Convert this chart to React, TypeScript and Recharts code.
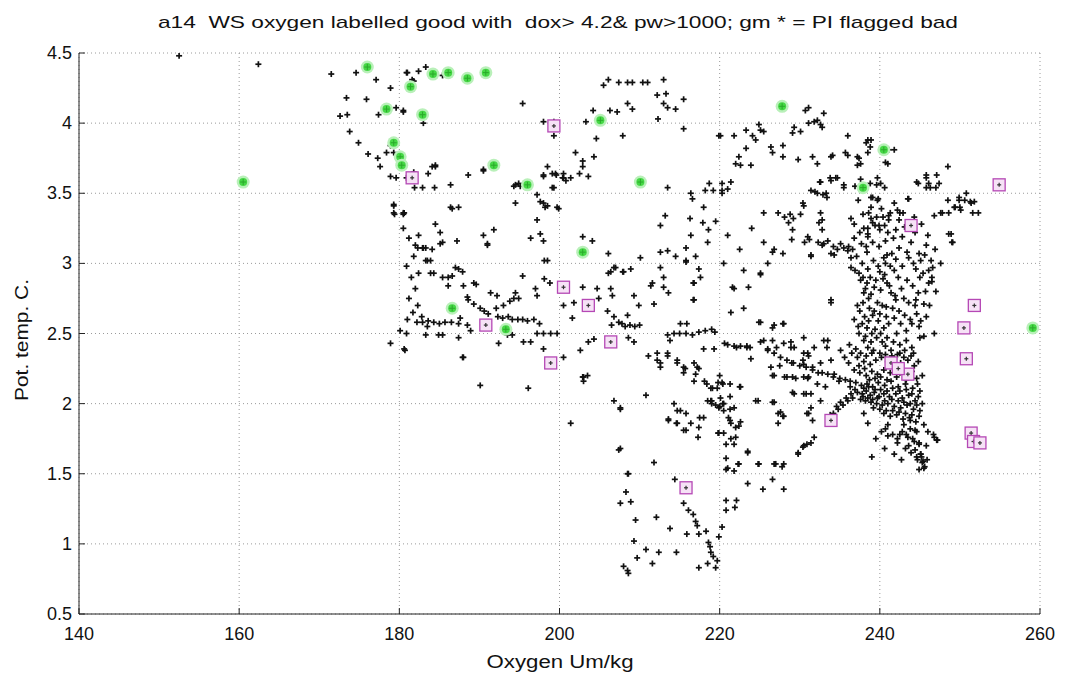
import React from 'react';
import { ScatterChart, Scatter, XAxis, YAxis, CartesianGrid } from 'recharts';

// axis ticks
const xTicks = [140, 160, 180, 200, 220, 240, 260];
const yTicks = [0.5, 1, 1.5, 2, 2.5, 3, 3.5, 4, 4.5];

// black crosses: oxygen (Um/kg), pot. temp (C)
const blackTopLeft = [[152.5, 4.48], [162.4, 4.42]];

const blackCluster175 = [
  [171.5, 4.35], [174.6, 4.36], [177.1, 4.31], [178.9, 4.25], [180.9, 4.36], [173.4, 4.18], [175.9, 4.17],
  [177.4, 4.06], [172.6, 4.05], [173.5, 4.06], [179.6, 4.11], [180.5, 4.08], [173.8, 3.94], [174.9, 3.86],
  [176.1, 3.78], [177.3, 3.75], [177.6, 3.69], [178.9, 3.84], [178.4, 3.79], [179.3, 3.79], [178.9, 3.62],
  [179.6, 3.61], [180.9, 3.61], [179.3, 3.42], [179.4, 3.35], [180.5, 3.35], [181, 4.36], [182.4, 4.37],
  [183.3, 4.4], [181.6, 4.31], [181.8, 4.3], [185.4, 4.34], [180.5, 4.09], [183, 4.0], [181.8, 3.65],
  [183.6, 3.64], [184.5, 3.69], [181.9, 3.54], [182.9, 3.54], [184.4, 3.54], [186.4, 3.56], [188.6, 3.63],
  [190.5, 3.67], [180.6, 3.36], [186.4, 3.4], [187.4, 3.4], [184.1, 3.69], [184.5, 3.7], [190.5, 3.66],
];

const blackBand180 = [
  [179.3, 3.41], [179.3, 3.36], [180.5, 3.36], [182.4, 3.2], [182.3, 3.11], [182.9, 3.11], [183.3, 3.11],
  [184.1, 3.1], [184.5, 3.28], [185.1, 3.22], [185.4, 3.15], [187.2, 3.16], [186.6, 3.39], [183.3, 3.02],
  [183.9, 3.02], [182.4, 2.93], [183.9, 2.93], [184.3, 2.93], [185.4, 2.9], [186.1, 2.9], [186.6, 2.91],
  [187, 2.97], [187.4, 2.96], [187.9, 2.94], [186.1, 2.84], [188, 2.84], [189.3, 2.86], [189.6, 2.85],
  [188.5, 2.76], [190.5, 3.2], [191, 3.14], [191.8, 3.24], [194.5, 3.43], [195.4, 2.91], [197.2, 3.31],
  [197.6, 3.21], [198, 3.16], [196.4, 3.18], [198.1, 3.02], [198.1, 2.89], [198.8, 2.86], [191.4, 2.79],
  [192.2, 2.77], [194.5, 2.79], [194.3, 2.75], [197, 2.82], [197.2, 2.77],
  [188.6, 2.74], [189.3, 2.71], [190.1, 2.68], [190.6, 2.66], [191.1, 2.64], [192.1, 2.68], [192.3, 2.62],
  [192.9, 2.61], [193.6, 2.62], [194.1, 2.6], [194.8, 2.6], [195.4, 2.6], [196, 2.59], [196.8, 2.6],
  [197.5, 2.57], [193, 2.7], [193.8, 2.73], [194.9, 2.75],
  [180.1, 2.52], [180.9, 2.5], [182.2, 2.58], [182.9, 2.58], [183.6, 2.59], [184.3, 2.58], [185, 2.57],
  [185.7, 2.58], [186.5, 2.58], [184.9, 2.49], [185.4, 2.49], [183.3, 2.49], [187.4, 2.57], [187.6, 2.61],
  [188.5, 2.56], [188.9, 2.52], [187.4, 2.47], [178.9, 2.43], [180.7, 2.38], [188, 2.33], [192.4, 2.43],
  [195.5, 2.44], [196.4, 2.44], [197.2, 2.5], [198, 2.5], [198.9, 2.5], [199.7, 2.5], [198, 2.39],
  [200.5, 2.33], [193.5, 2.49], [194.1, 2.49],
  [180.5, 3.25], [181.2, 3.18], [181.8, 3.05], [180.9, 2.98], [181.5, 2.9], [182, 2.82], [181.2, 2.75],
  [182.3, 2.7], [181.7, 2.65], [182.8, 2.62], [181, 2.6], [183.5, 2.55], [182, 3.13], [183, 3.11],
  [185.1, 3.14], [183.5, 3.02], [191, 3.13], [198.5, 3.02],
  [187.9, 2.33], [190.1, 2.13], [196.1, 2.11], [180.6, 2.39],
];

const blackUpperMid = [
  [195.4, 4.14], [198, 4.01], [199.3, 4.01], [199.3, 3.91], [194.3, 3.55], [195.1, 3.55], [197.2, 3.49],
  [198, 3.43], [198.5, 3.41], [199.7, 3.4], [199.3, 3.54], [198.5, 3.69], [199.5, 3.64], [200.5, 3.61],
  [201.4, 3.61], [200.5, 3.64], [198, 3.62], [202, 3.79], [202.9, 3.73], [202.9, 3.69], [202.5, 3.64],
  [203.6, 3.62], [204.3, 3.76], [204.6, 3.89], [203.3, 4.01], [204.2, 4.09], [206.3, 4.09], [207.2, 4.08],
  [208.5, 4.14], [209.1, 4.1], [205.5, 4.27], [206.1, 4.31], [207.4, 4.29], [208.5, 4.29], [209.1, 4.29],
  [210.4, 4.29], [211, 4.29], [213, 4.31], [212.2, 4.2], [213.3, 4.21], [213, 4.14], [213.5, 4.11],
  [214.5, 4.1], [215.5, 4.17], [212.3, 4.03], [215.5, 3.96], [207.9, 3.91], [219.9, 3.91], [213.5, 3.54],
  [216.4, 3.5], [216.6, 3.46], [218.2, 3.52], [218.7, 3.57], [219.2, 3.52], [220.3, 3.5], [221, 3.53],
  [213.2, 3.34], [212.6, 3.27], [216.3, 3.32], [217.9, 3.29], [218.6, 3.24], [216.4, 3.2], [215.8, 3.11],
  [202.9, 3.19], [204.1, 3.16], [194.5, 3.56], [194.9, 3.57], [198, 3.63], [199.1, 3.64], [199.6, 3.63],
  [200.4, 3.61], [200.8, 3.59], [199.1, 3.54], [197.6, 3.44], [198.2, 3.4], [199.9, 3.39],
  [218, 3.4], [219.5, 3.3], [221, 3.2], [222.5, 3.1], [224, 3.25], [225.5, 3.15], [220.5, 3.0],
  [223, 2.95], [226, 3.0], [218.5, 3.15], [217, 3.05], [214.5, 3.05], [213, 2.9],
  [206.1, 3.07], [210.1, 3.04], [212.6, 3.08], [213.5, 3.09], [215.8, 3.02],
];

const blackMidBand = [
  [206.8, 2.97], [208, 2.94], [208.9, 2.96], [206.1, 2.93], [212.6, 2.97], [215.8, 3.01], [217.4, 2.96],
  [217.6, 2.9], [216.8, 2.86], [225.1, 2.92], [221.6, 2.83], [223.6, 2.83], [211.4, 2.84], [213, 2.83],
  [213.6, 2.79], [209.3, 2.77], [209.9, 2.7], [211.8, 2.71], [216.8, 2.74], [206.4, 2.82], [206.6, 2.77],
  [204.7, 2.82], [202.9, 2.83], [204.9, 2.75], [200.5, 2.7], [201.8, 2.72], [201.6, 2.61],
  [206, 2.66], [206.8, 2.62], [207.4, 2.58], [206.5, 2.56], [208.8, 2.56], [209.4, 2.55], [210, 2.56],
  [207.8, 2.57], [208.2, 2.55], [208.5, 2.63], [208.6, 2.47], [209.3, 2.44], [204.3, 2.46], [203.6, 2.44],
  [202.6, 2.38], [203, 2.19], [203.5, 2.2],
  [213.5, 2.49], [214.3, 2.5], [215, 2.5], [215.8, 2.5], [216.6, 2.49], [217.4, 2.51], [218.2, 2.52],
  [219, 2.53], [219.4, 2.51], [213.8, 2.45], [215.1, 2.57], [218, 2.39], [219.3, 2.39], [221, 2.42],
  [221.8, 2.41], [222.6, 2.41], [223.4, 2.4], [223.8, 2.4], [225.1, 2.44], [226, 2.39], [226.8, 2.36],
  [227.6, 2.33], [228.4, 2.31], [229.2, 2.29], [230, 2.27], [230.8, 2.26], [231.6, 2.24], [232.3, 2.22],
  [226.8, 2.56], [228, 2.57], [225.1, 2.58], [228.9, 2.44], [229.3, 2.4],
  [212.2, 2.31], [212.6, 2.26], [213.5, 2.34], [214.7, 2.31], [215.7, 2.25], [215.5, 2.22], [217.2, 2.26],
  [217, 2.21], [211.1, 2.34], [212.2, 2.36], [212.6, 2.29], [213.5, 2.36], [214.7, 2.29], [215.5, 2.26],
  [216.8, 2.29], [217.4, 2.25],
  [226.6, 3.08], [227.9, 3.07], [231.4, 3.05], [225.1, 2.93], [221.8, 2.82], [221.4, 2.65], [223, 2.68],
  [224.9, 2.58], [226.6, 2.54], [227.9, 2.57], [233.9, 2.74], [233.5, 2.45], [220.6, 2.43], [222.1, 2.4],
  [223.4, 2.41], [225.5, 2.45], [226.6, 2.45], [226, 2.38], [227.1, 2.4], [228, 2.43], [228.9, 2.4],
  [230.5, 2.36], [231.1, 2.34], [223.9, 2.32], [226.4, 2.26], [227.5, 2.27], [229, 2.29], [230.5, 2.28],
  [231.6, 2.26], [226.6, 2.2], [228.1, 2.19], [229.1, 2.19], [230.5, 2.19],
  [206.4, 2.94], [207, 2.97], [207.9, 2.94], [211.6, 2.86], [216.7, 2.86], [216.7, 2.74], [215.9, 2.57],
];

const blackLower = [
  [210.8, 2.06], [206.8, 2.02], [207.6, 1.97], [201.4, 1.86], [207.6, 1.68], [211.8, 1.58], [208.6, 1.5],
  [226.8, 2.2], [228.4, 2.19], [229.5, 2.18], [231, 2.18], [229.3, 2.07], [230.5, 2.07], [224.8, 2.02],
  [226.8, 2.01], [227.6, 1.94], [228, 1.91], [227.3, 1.86], [231.4, 1.97], [231.1, 1.93], [229.8, 1.64],
  [230.5, 1.7], [231.4, 1.72], [228, 1.57], [226.8, 1.57], [224.8, 1.57], [223.5, 1.65], [222.3, 1.57],
  [221, 1.54], [220.8, 1.61], [221.8, 1.71], [220.5, 1.79], [221.4, 1.86], [222, 1.83], [222.6, 1.87],
  [221.1, 1.9], [219.8, 1.79], [218.5, 2.02], [219, 2.0], [219.5, 1.99], [220, 1.98], [220.5, 1.95],
  [221.8, 1.97], [218, 1.9], [217.4, 1.83], [217.3, 1.76], [215.5, 1.81], [214.7, 1.86], [213.6, 1.89],
  [215.1, 1.95], [214.3, 2.0], [216.8, 2.16], [218.4, 2.14], [219.1, 2.11], [220.3, 2.15], [221.3, 2.14],
  [222.5, 2.12], [218.9, 2.02], [220, 2.2], [219.8, 2.15],
  [207.4, 1.67], [208.5, 1.5], [208.3, 1.37], [207.6, 1.29], [208.9, 1.3], [209.5, 1.17], [212.1, 1.19],
  [209.3, 1.02], [210.8, 0.96], [209.7, 0.9], [208, 0.84], [208.5, 0.81], [208.6, 0.79], [211.6, 0.86],
  [212.4, 0.94], [214.6, 0.94], [213.8, 1.11], [214.4, 1.46], [215.5, 1.29], [216.1, 1.24], [216.7, 1.21],
  [217, 1.16], [217.2, 1.13], [215.9, 1.07], [217.4, 1.07], [218.3, 1.09], [218.6, 1.01], [218.8, 0.98],
  [218.9, 0.94], [219.2, 0.91], [219.9, 1.05], [217.4, 0.83], [218.5, 0.86], [219.5, 0.83], [219.7, 0.88],
  [220.3, 1.12], [220.8, 1.24], [220.8, 1.31], [221.9, 1.26], [222.1, 1.31], [220.8, 1.53], [221.8, 1.52],
  [220.8, 1.71], [221.4, 1.75], [222, 1.76], [222.4, 1.57], [223.5, 1.43], [223.5, 1.66], [224.9, 1.57],
  [225.4, 1.39], [226.6, 1.46], [227, 1.57], [227.8, 1.55], [228, 1.39], [229.8, 1.65], [219.9, 1.79],
  [215.8, 1.81], [214.6, 1.86],
  [218.1, 2.16], [218.9, 2.11], [219.7, 2.11], [220.1, 2.04], [219, 2.02], [220.5, 2.0], [219.9, 1.97],
  [214.7, 1.95], [215.8, 1.93], [216.4, 1.86], [217.5, 1.9], [213.6, 1.88], [207.6, 1.96], [202.9, 2.19],
  [203, 2.16], [220.4, 2.14], [222.6, 2.12], [221.3, 2.05], [226.6, 2.01], [229.1, 2.08], [230.8, 2.07],
  [224.5, 2.02], [227.3, 1.93], [227.9, 1.91], [220.4, 2.0], [221.3, 1.96], [221.3, 1.88], [222.4, 1.84],
];

const blackUpperRight = [
  [232.6, 3.99], [231.8, 4.01], [236, 3.91], [238.3, 3.86], [238.9, 3.88], [238.5, 3.79], [237.4, 3.75],
  [237.6, 3.71], [241.1, 3.81], [240.7, 3.72], [234.1, 3.77], [235.7, 3.79], [231.6, 3.76], [232.2, 3.71],
  [232.6, 3.58], [233.9, 3.59], [234.5, 3.61], [235.5, 3.54], [231.4, 3.52], [231.9, 3.51], [232.9, 3.49],
  [233.3, 3.5], [239.7, 3.61], [240.1, 3.57], [238.9, 3.47], [239.7, 3.45], [236.4, 3.32], [238, 3.25],
  [238.5, 3.21], [239.6, 3.33], [240.4, 3.33], [241.1, 3.34], [242.5, 3.36], [241.1, 3.31], [239.1, 3.29],
  [240, 3.24], [242.4, 3.31], [243.6, 3.46], [244.6, 3.58], [245.8, 3.61], [246.1, 3.57], [247.1, 3.63],
  [247.4, 3.57], [248.5, 3.69], [247, 3.54], [248.5, 3.45], [249.4, 3.4], [250, 3.4], [249.9, 3.45],
  [250.6, 3.45], [251.4, 3.43], [251.6, 3.36], [246.8, 3.34], [247.6, 3.36], [248.6, 3.21], [249, 3.15],
  [245.8, 3.13], [231, 3.19], [231.2, 3.17], [232.8, 3.24], [233, 3.14], [233.5, 3.16], [231.4, 3.06],
  [233.9, 3.07], [234.3, 3.06], [235.5, 3.11], [236, 3.09], [236.4, 3.04], [235.1, 3.14], [236.8, 3.18],
  [238.5, 3.19], [239.1, 3.15], [240.5, 3.04], [240.9, 3.06], [241.5, 3.07], [242.4, 3.11], [243.6, 3.04],
  [244.9, 3.07], [245.1, 3.02], [246.4, 3.02], [246.6, 2.97], [230.4, 3.43], [232.6, 3.36], [232.8, 3.31],
  [230.7, 4.09], [231.1, 4.11], [233, 4.07], [232.2, 4.02], [232.8, 3.97], [231.1, 4.0], [229.3, 3.97],
  [229.1, 3.93], [230.1, 3.94], [224.9, 3.99], [225.1, 3.95], [225.5, 3.94], [223.3, 3.95], [224.1, 3.91],
  [224.5, 3.88], [221.8, 3.91], [220.1, 3.91], [227.9, 3.84], [226.4, 3.83], [226.6, 3.79], [227.9, 3.76],
  [223.3, 3.82], [222.4, 3.76], [222, 3.71], [222.6, 3.7], [223.9, 3.7], [229.8, 3.74], [233.9, 3.76],
  [236, 3.77], [237.2, 3.76], [237.2, 3.7], [238.5, 3.88], [238.8, 3.83], [241, 3.71], [241.8, 3.81],
  [221.4, 3.58], [220.3, 3.57], [220.3, 3.52], [232.5, 3.58], [233.8, 3.61], [234.7, 3.61], [232.2, 3.5],
  [233.4, 3.47], [235.5, 3.56], [238.8, 3.57], [239.6, 3.56], [240.6, 3.54], [239.1, 3.47], [239.8, 3.46],
  [225.5, 3.36], [227.3, 3.36], [228.1, 3.33], [228.8, 3.35], [229.2, 3.32], [230.1, 3.35], [228.6, 3.29],
  [229.1, 3.24], [230.5, 3.41], [232.4, 3.29], [238.6, 3.36], [238.9, 3.32], [239.4, 3.27], [239.9, 3.27],
  [240.6, 3.27], [241.3, 3.36], [242.2, 3.38], [238.5, 3.25], [229, 3.17], [230.6, 3.15], [232.3, 3.15],
  [232.8, 3.13], [234.2, 3.12], [234.7, 3.1], [236.1, 3.12], [236.6, 3.1], [226.8, 3.1],
  [245.8, 3.63], [246.3, 3.54], [245.8, 3.54], [244.8, 3.57], [243.5, 3.46], [249.9, 3.47], [250.8, 3.5],
  [251.3, 3.44], [251.8, 3.44], [250.1, 3.38], [249.3, 3.4], [252.3, 3.36], [248.6, 3.36], [247.8, 3.36],
  [248.9, 3.21], [249.1, 3.15],
];

const blackColumn = [
  [236.4, 2.97], [237.4, 2.93], [237.9, 2.9], [238.5, 2.96], [238.8, 2.9], [238.4, 2.86], [240, 2.94],
  [240.4, 2.89], [240.9, 2.86], [241.8, 2.95], [242.3, 2.9], [244.5, 2.96], [245, 2.9], [245.4, 2.93],
  [246.1, 2.86], [246.5, 2.87], [233.9, 2.72], [239.3, 2.83], [240.1, 2.81], [238, 2.79], [238.6, 2.75],
  [239.7, 2.72], [240.3, 2.7], [240.8, 2.69], [241.4, 2.79], [242, 2.74], [243, 2.75], [243.6, 2.72],
  [244.4, 2.7], [244.5, 2.74], [245.5, 2.71], [245.1, 2.59], [244.6, 2.64], [244, 2.57], [237.5, 2.66],
  [238.1, 2.62], [238.6, 2.59], [239.1, 2.63], [237.8, 2.57], [238.4, 2.54], [239, 2.5], [239.8, 2.59],
  [240.5, 2.54], [241.1, 2.57], [241.8, 2.61], [242.6, 2.57], [243.3, 2.52], [242.1, 2.5], [239.6, 2.47],
  [240.3, 2.44], [240.7, 2.41], [241.4, 2.38], [238, 2.45], [238.5, 2.4], [239, 2.36], [237.4, 2.5],
  [243.3, 2.45], [244, 2.4], [244.2, 2.36], [245, 2.47], [242.5, 2.36],
  [230.5, 2.47], [231.8, 2.4], [231, 2.36], [230.4, 2.31], [233, 2.45], [233.4, 2.4], [235.1, 2.38],
  [235.6, 2.33], [236.1, 2.29], [233.9, 2.31], [232.6, 2.29], [231.1, 2.19], [232.2, 2.14], [234.3, 2.21],
  [234.9, 2.16], [233.2, 2.12], [231.4, 2.07], [230.9, 1.93], [231.6, 1.88], [232.6, 2.02],
  [246.5, 2.9], [247, 2.8], [246.2, 2.7], [245.8, 2.62], [246.8, 2.5],
  [237.1, 3.05], [237.8, 3.0], [238.4, 3.08], [239.2, 3.02], [239.8, 2.98], [240.7, 3.0], [241.3, 2.98],
  [242, 3.03], [242.8, 2.98], [243.4, 3.08], [244.2, 3.0], [245.6, 3.06], [246.1, 2.95], [237.7, 3.14],
  [238.3, 3.12], [239.9, 3.12], [240.7, 3.16], [241.7, 3.18], [242.8, 3.19], [243.9, 3.15], [244.4, 3.22],
  [243.1, 3.26], [242, 3.24], [241, 3.22], [237.5, 3.22], [236.8, 3.28], [237.9, 3.35], [238.9, 3.4],
  [240.2, 3.39], [241.8, 3.43], [242.9, 3.36], [244.3, 3.33], [245.2, 3.28], [246, 3.2], [246.9, 3.1],
  [247.6, 3.0], [237.3, 3.45], [236.9, 3.55], [237.6, 3.6],
  [236.9, 2.95], [237.6, 2.88], [238.2, 2.82], [238.9, 2.78], [239.5, 2.88], [240.6, 2.92], [241.2, 2.84],
  [241.9, 2.77], [242.7, 2.82], [243.4, 2.88], [244.1, 2.84], [244.8, 2.79], [245.7, 2.8],
  [237.2, 2.7], [237.9, 2.72], [238.7, 2.68], [239.3, 2.66], [240, 2.64], [240.8, 2.62], [241.6, 2.68],
  [242.4, 2.66], [243.1, 2.63], [243.8, 2.6], [244.9, 2.55], [245.5, 2.48],
  [236.8, 2.6], [237.3, 2.55], [238.2, 2.48], [238.9, 2.44], [239.4, 2.53], [240.1, 2.5], [240.9, 2.47],
  [241.7, 2.44], [242.5, 2.42], [243.1, 2.38], [243.9, 2.34], [244.8, 2.3],
];

const blackCore = [
  [236.5, 2.36], [237.2, 2.33], [238, 2.3], [238.8, 2.28], [239.5, 2.31], [240.2, 2.33], [241, 2.3],
  [241.8, 2.32], [242.6, 2.29], [243.5, 2.31], [244.3, 2.27], [236.8, 2.24], [237.5, 2.22], [238.3, 2.2],
  [239, 2.23], [239.7, 2.21], [240.5, 2.24], [241.3, 2.22], [242.1, 2.19], [242.9, 2.24], [243.8, 2.2],
  [244.6, 2.18], [236.3, 2.16], [237, 2.15], [237.7, 2.13], [238.4, 2.14], [239.1, 2.12], [239.8, 2.15],
  [240.6, 2.13], [241.4, 2.16], [242.3, 2.12], [243.2, 2.14], [244.1, 2.11], [245, 2.09], [237.2, 2.08],
  [237.8, 2.07], [238.3, 2.09], [238.8, 2.06], [239.3, 2.08], [239.9, 2.05], [240.5, 2.07], [241.2, 2.05],
  [242, 2.07], [242.8, 2.04], [243.6, 2.06], [244.4, 2.02], [237.6, 2.03], [238.2, 2.02], [238.9, 2.01],
  [239.6, 2.0], [240.3, 1.99], [241, 2.0], [241.8, 1.98], [242.6, 1.97], [243.4, 1.99], [244.2, 1.96],
  [245, 1.95], [240.5, 1.93], [241.3, 1.91], [242.1, 1.92], [242.9, 1.89], [243.7, 1.9], [244.5, 1.87],
  [232.8, 2.22], [233.5, 2.21], [234.2, 2.19], [235, 2.18], [235.7, 2.17], [236.3, 2.12], [234.2, 1.93],
  [234.8, 1.96], [235.4, 1.99], [236, 2.02], [236.6, 2.04], [238, 1.93], [238.5, 1.86],
  [236.2, 2.42], [237, 2.39], [237.6, 2.36], [238.3, 2.34], [239.2, 2.38], [240, 2.36], [240.7, 2.35],
  [241.5, 2.34], [242.2, 2.35], [243, 2.33], [237.4, 2.27], [238.1, 2.25], [238.7, 2.17], [239.4, 2.18],
  [240.1, 2.19], [240.9, 2.17], [241.7, 2.26], [242.5, 2.22], [243.3, 2.17], [244, 2.23], [244.7, 2.14],
  [245.3, 2.2], [238, 2.11], [238.6, 2.12], [239.4, 2.1], [240.1, 2.1], [240.9, 2.09], [241.6, 2.11],
  [242.5, 2.09], [243.3, 2.1], [244, 2.07], [244.8, 2.05], [237.9, 2.05], [238.5, 2.04], [239.1, 2.03],
  [239.7, 2.04], [240.6, 2.02], [241.5, 2.03], [242.3, 2.02], [243, 2.01], [243.8, 2.0], [244.6, 1.99],
  [245.3, 2.0], [239.2, 1.97], [240, 1.96], [240.8, 1.95], [241.6, 1.95], [242.4, 1.94], [243.2, 1.93],
  [244, 1.92], [244.9, 1.91], [245.5, 1.85], [236.9, 2.1], [236.4, 2.07], [235.8, 2.04], [235.1, 2.01],
  [234.6, 1.98], [233.8, 1.92],
];

const blackTail = [
  [243, 1.85], [243.8, 1.82], [244.6, 1.8], [243.3, 1.78], [244.1, 1.75], [244.9, 1.72], [243.6, 1.7],
  [244.4, 1.67], [245.1, 1.64], [244.7, 1.6], [245.3, 1.58], [245.6, 1.55], [244.9, 1.53], [245.2, 1.62],
  [246, 1.8], [246.7, 1.78], [247.2, 1.74], [241, 1.85], [240.2, 1.8], [239.5, 1.75], [241.6, 1.78],
  [242.2, 1.72], [240.6, 1.68], [239, 1.62], [241.8, 1.64], [242.7, 1.6], [240.7, 1.82], [241, 1.77],
  [242.2, 1.75], [230.9, 1.71], [230.4, 1.69], [231.8, 1.76], [243.8, 1.88], [244.4, 1.81], [244.9, 1.71],
  [245.1, 1.64], [245.4, 1.59], [245.5, 1.54], [246.8, 1.76], [247.1, 1.74],
  [242.8, 1.8], [243.5, 1.76], [244.3, 1.73], [243.9, 1.65], [244.6, 1.62], [245.8, 1.7], [245.9, 1.6],
  [243.2, 1.68], [242.5, 1.78],
];

const greenGood = [
  [160.5, 3.58], [176, 4.4], [178.4, 4.1], [179.3, 3.86], [180.1, 3.76], [180.3, 3.7], [181.4, 4.26],
  [182.9, 4.06], [184.2, 4.35], [186.1, 4.36], [188.5, 4.32], [190.8, 4.36], [191.8, 3.7], [196, 3.56],
  [205.1, 4.02], [210.1, 3.58], [186.6, 2.68], [193.3, 2.53], [202.9, 3.08], [227.8, 4.12], [240.5, 3.81],
  [237.9, 3.54], [259.1, 2.54],
];

const magentaFlagged = [
  [199.3, 3.98], [181.6, 3.61], [200.5, 2.83], [203.6, 2.7], [190.8, 2.56], [206.4, 2.44], [198.9, 2.29],
  [215.8, 1.4], [254.9, 3.56], [243.9, 3.27], [251.8, 2.7], [250.5, 2.54], [250.8, 2.32], [233.9, 1.88],
  [251.4, 1.79], [251.7, 1.73], [252.5, 1.72], [241.4, 2.29], [243.5, 2.21], [242.3, 2.25],
];

const toPts = (arr: number[][]) => arr.map(([x, y]) => ({ x, y }));

const blackPts = toPts([
  ...blackTopLeft, ...blackCluster175, ...blackBand180, ...blackUpperMid, ...blackMidBand,
  ...blackLower, ...blackUpperRight, ...blackColumn, ...blackCore, ...blackTail,
]);
const greenPts = toPts(greenGood);
const magentaPts = toPts(magentaFlagged);

const FONT = '"Liberation Sans", Arial, Helvetica, sans-serif';

const Cross = (p: any) => {
  const { cx, cy } = p;
  if (cx == null || cy == null) return null;
  return (
    <g>
      <line x1={cx - 3} x2={cx + 3} y1={cy} y2={cy} stroke="#111" strokeWidth={1.7} />
      <line x1={cx} x2={cx} y1={cy - 3} y2={cy + 3} stroke="#111" strokeWidth={1.7} />
    </g>
  );
};

const GreenStar = (p: any) => {
  const { cx, cy } = p;
  if (cx == null || cy == null) return null;
  return (
    <g>
      <circle cx={cx} cy={cy} r={6.5} fill="#b9f0b9" />
      <circle cx={cx} cy={cy} r={4} fill="#45d845" />
      <line x1={cx - 3} x2={cx + 3} y1={cy} y2={cy} stroke="#2aa82a" strokeWidth={1} />
      <line x1={cx} x2={cx} y1={cy - 3} y2={cy + 3} stroke="#2aa82a" strokeWidth={1} />
    </g>
  );
};

const MagentaBox = (p: any) => {
  const { cx, cy } = p;
  if (cx == null || cy == null) return null;
  return (
    <g>
      <rect x={cx - 6} y={cy - 6} width={12} height={12} fill="#f6e2f6" stroke="#b548b5" strokeWidth={1.3} />
      <line x1={cx - 2} x2={cx + 2} y1={cy} y2={cy} stroke="#333" strokeWidth={1.2} />
      <line x1={cx} x2={cx} y1={cy - 2} y2={cy + 2} stroke="#333" strokeWidth={1.2} />
    </g>
  );
};

const XTick = (p: any) => (
  <text x={p.x} y={p.y + 26} textAnchor="middle" fontSize={18} fontFamily={FONT} fill="#111">
    {p.payload.value}
  </text>
);

const YTick = (p: any) => (
  <text x={p.x - 7} y={p.y + 6} textAnchor="end" fontSize={18} fontFamily={FONT} fill="#111">
    {p.payload.value}
  </text>
);

export default function App() {
  return (
    <div style={{ position: 'relative', width: 1072, height: 679, background: '#fff', fontFamily: FONT }}>
      <style>{`body{margin:0;}`}</style>
      <ScatterChart width={1072} height={679} margin={{ top: 53, right: 32, bottom: 35, left: 29 }}>
        <CartesianGrid stroke="#9a9a9a" strokeDasharray="1 3" />
        <XAxis
          type="number"
          dataKey="x"
          domain={[140, 260]}
          ticks={xTicks}
          height={30}
          axisLine={{ stroke: '#222' }}
          tickLine={{ stroke: '#222' }}
          tickSize={-6}
          tickMargin={6}
          tick={<XTick />}
          allowDataOverflow
        />
        <YAxis
          type="number"
          dataKey="y"
          domain={[0.5, 4.5]}
          ticks={yTicks}
          width={50}
          axisLine={{ stroke: '#222' }}
          tickLine={{ stroke: '#222' }}
          tickSize={-6}
          tickMargin={6}
          tick={<YTick />}
          allowDataOverflow
        />
        <XAxis
          xAxisId="top"
          orientation="top"
          type="number"
          domain={[140, 260]}
          ticks={xTicks}
          height={0}
          axisLine={{ stroke: '#222' }}
          tickLine={{ stroke: '#222' }}
          tickSize={-6}
          tick={false}
        />
        <YAxis
          yAxisId="right"
          orientation="right"
          type="number"
          domain={[0.5, 4.5]}
          ticks={yTicks}
          width={0}
          axisLine={{ stroke: '#222' }}
          tickLine={{ stroke: '#222' }}
          tickSize={-6}
          tick={false}
        />
        <Scatter data={blackPts} shape={<Cross />} isAnimationActive={false} />
        <Scatter data={greenPts} shape={<GreenStar />} isAnimationActive={false} />
        <Scatter data={magentaPts} shape={<MagentaBox />} isAnimationActive={false} />
      </ScatterChart>
      <svg width={1072} height={679} style={{ position: 'absolute', left: 0, top: 0, pointerEvents: 'none' }}>
        <text x={558} y={28} textAnchor="middle" fontSize={17} fontFamily={FONT} fill="#111"
          textLength={800} lengthAdjust="spacingAndGlyphs" style={{ whiteSpace: 'pre' }}>
          {'a14  WS oxygen labelled good with  dox> 4.2& pw>1000; gm * = PI flagged bad'}
        </text>
        <text x={560} y={668} textAnchor="middle" fontSize={18} fontFamily={FONT} fill="#111"
          textLength={147} lengthAdjust="spacingAndGlyphs">
          Oxygen Um/kg
        </text>
        <text x={0} y={0} transform="translate(28,340) rotate(-90)" textAnchor="middle" fontSize={18}
          fontFamily={FONT} fill="#111" textLength={122} lengthAdjust="spacingAndGlyphs">
          Pot. temp. C.
        </text>
      </svg>
    </div>
  );
}
